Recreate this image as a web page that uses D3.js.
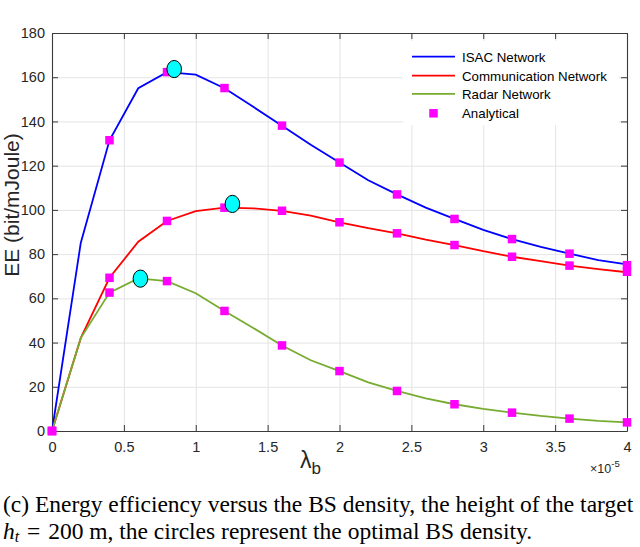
<!DOCTYPE html>
<html>
<head>
<meta charset="utf-8">
<script src="https://cdn.jsdelivr.net/npm/d3@7"></script>
<style>
  body { margin: 0; background: #fff; }
  svg { display: block; }
</style>
</head>
<body>
<div id="chart"></div>
<script>
// BS density (x 1e-5) for the simulated curves
const lambda = [0, 0.2, 0.4, 0.6, 0.8, 1.0, 1.2, 1.4, 1.6, 1.8, 2.0, 2.2, 2.4, 2.6, 2.8, 3.0, 3.2, 3.4, 3.6, 3.8, 4.0];
const isacEE  = [0, 85, 131.5, 155, 162.3, 161.2, 155, 146.6, 138.1, 129.5, 121.4, 113.4, 107, 101, 95.9, 91, 86.8, 83.3, 80.2, 77.3, 75.4];
const commEE  = [0, 42, 69.3, 85.6, 95, 99.4, 101, 100.7, 99.6, 97.4, 94.4, 91.7, 89.4, 86.6, 84.1, 81.3, 78.8, 76.8, 74.8, 73.2, 71.8];
const radarEE = [0, 42, 62.6, 69, 67.8, 62.3, 54.3, 46.6, 38.7, 32, 27.1, 22, 18.1, 14.8, 12.1, 10, 8.3, 6.8, 5.6, 4.6, 3.9];

// analytical points
const anaLambda = [0, 0.4, 0.8, 1.2, 1.6, 2.0, 2.4, 2.8, 3.2, 3.6, 4.0];
const anaIsac   = [0, 131.5, 162.3, 155.1, 138.1, 121.4, 107, 95.9, 86.8, 80.2, 75];
const anaComm   = [0, 69.3, 95, 101, 99.6, 94.4, 89.4, 84.1, 78.8, 74.8, 72];
const anaRadar  = [0, 62.6, 67.8, 54.3, 38.7, 27.1, 18.1, 12.1, 8.3, 5.6, 3.9];

// optimal BS density (circles)
const optLambda = [0.85, 1.255, 0.615];
const optEE     = [163.7, 102.7, 68.9];

const seriesNames = ["ISAC Network", "Communication Network", "Radar Network"];
const xTicks = [0, 0.5, 1, 1.5, 2, 2.5, 3, 3.5, 4];
const yTicks = [0, 20, 40, 60, 80, 100, 120, 140, 160, 180];

const width = 640, height = 547;
const pLeft = 52, pRight = 627, pTop = 33, pBottom = 431;
const colors = ["#0000ff", "#ff0000", "#77ac30"];
const axisColor = "#3a3a3a";

const x = d3.scaleLinear().domain([0, 4]).range([pLeft, pRight]);
const y = d3.scaleLinear().domain([0, 180]).range([pBottom, pTop]);

const svg = d3.select("#chart").append("svg")
    .attr("width", width)
    .attr("height", height)
    .style("font-family", "'Liberation Sans', Arial, sans-serif");

// grid
svg.append("g")
    .attr("transform", `translate(0,${pBottom})`)
    .call(d3.axisBottom(x).tickValues(xTicks).tickSize(-(pBottom - pTop)).tickFormat(""))
    .call(g => g.select(".domain").remove())
    .call(g => g.selectAll("line").attr("stroke", "#e4e4e4"));
svg.append("g")
    .attr("transform", `translate(${pLeft},0)`)
    .call(d3.axisLeft(y).tickValues(yTicks).tickSize(-(pRight - pLeft)).tickFormat(""))
    .call(g => g.select(".domain").remove())
    .call(g => g.selectAll("line").attr("stroke", "#e4e4e4"));

// legend background hides the grid behind it
svg.append("rect")
    .attr("x", 403).attr("y", 41)
    .attr("width", 216).attr("height", 84)
    .attr("fill", "#fff");

// axes with inward ticks on all four sides
const styleAxis = g => {
    g.select(".domain").attr("stroke", axisColor).attr("stroke-width", 1.1);
    g.selectAll(".tick line").attr("stroke", axisColor);
    g.selectAll("text").attr("fill", "#262626").style("font-size", "14.5px");
};
svg.append("g")
    .attr("transform", `translate(0,${pBottom})`)
    .call(d3.axisBottom(x).tickValues(xTicks).tickSizeInner(-6).tickSizeOuter(0).tickPadding(11)
        .tickFormat(d3.format("")))
    .call(styleAxis);
svg.append("g")
    .attr("transform", `translate(0,${pTop})`)
    .call(d3.axisTop(x).tickValues(xTicks).tickSizeInner(-6).tickSizeOuter(0).tickFormat(""))
    .call(styleAxis);
svg.append("g")
    .attr("transform", `translate(${pLeft},0)`)
    .call(d3.axisLeft(y).tickValues(yTicks).tickSizeInner(-6).tickSizeOuter(0).tickPadding(7))
    .call(styleAxis);
svg.append("g")
    .attr("transform", `translate(${pRight},0)`)
    .call(d3.axisRight(y).tickValues(yTicks).tickSizeInner(-6).tickSizeOuter(0).tickFormat(""))
    .call(styleAxis);

// curves
const line = d3.line().x(d => x(d[0])).y(d => y(d[1]));
[isacEE, commEE, radarEE].forEach((vals, i) => {
    svg.append("path")
        .datum(lambda.map((l, j) => [l, vals[j]]))
        .attr("fill", "none")
        .attr("stroke", colors[i])
        .attr("stroke-width", 1.8)
        .attr("d", line);
});

// analytical markers
const ms = 8.5;
[anaIsac, anaComm, anaRadar].forEach(vals => {
    svg.append("g").selectAll("rect")
        .data(anaLambda.map((l, j) => [l, vals[j]]))
        .join("rect")
        .attr("x", d => x(d[0]) - ms / 2)
        .attr("y", d => y(d[1]) - ms / 2)
        .attr("width", ms).attr("height", ms)
        .attr("fill", "#ff00ff");
});

// optimal points
svg.append("g").selectAll("ellipse")
    .data(optLambda.map((l, j) => [l, optEE[j]]))
    .join("ellipse")
    .attr("cx", d => x(d[0]))
    .attr("cy", d => y(d[1]))
    .attr("rx", 7.3).attr("ry", 8.6)
    .attr("fill", "#00ffff")
    .attr("stroke", "#000")
    .attr("stroke-width", 1);

// legend
const legendRows = [56.7, 75.7, 93.8, 113.3];
seriesNames.forEach((name, i) => {
    svg.append("line")
        .attr("x1", 412).attr("x2", 455)
        .attr("y1", legendRows[i]).attr("y2", legendRows[i])
        .attr("stroke", colors[i]).attr("stroke-width", 1.8);
    svg.append("text")
        .attr("x", 462).attr("y", legendRows[i] + 4.8)
        .style("font-size", "13.3px").attr("fill", "#000")
        .text(name);
});
svg.append("rect")
    .attr("x", 433.5 - ms / 2).attr("y", legendRows[3] - ms / 2)
    .attr("width", ms).attr("height", ms)
    .attr("fill", "#ff00ff");
svg.append("text")
    .attr("x", 462).attr("y", legendRows[3] + 4.8)
    .style("font-size", "13.3px").attr("fill", "#000")
    .text("Analytical");

// axis labels
svg.append("text")
    .attr("transform", "translate(19,205) rotate(-90)")
    .attr("text-anchor", "middle")
    .style("font-size", "21px").attr("fill", "#262626")
    .text("EE (bit/mJoule)");

const xl = svg.append("text")
    .attr("x", 300).attr("y", 468)
    .attr("fill", "#262626")
    .style("font-size", "23px");
xl.append("tspan").text("λ");
xl.append("tspan").attr("dy", 6).style("font-size", "17px").text("b");

const ex = svg.append("text")
    .attr("x", 590).attr("y", 473)
    .attr("fill", "#262626")
    .style("font-size", "12.5px");
ex.append("tspan").text("×10");
ex.append("tspan").attr("dy", -6).style("font-size", "9.5px").text("-5");

// caption
const cap = svg.append("g")
    .style("font-family", "'Liberation Serif', 'Times New Roman', serif")
    .style("font-size", "23.5px")
    .attr("fill", "#000");
cap.append("text")
    .attr("x", 3).attr("y", 512)
    .text("(c) Energy efficiency versus the BS density, the height of the target");
const c2 = cap.append("text").attr("x", 3).attr("y", 539);
c2.append("tspan").style("font-style", "italic").text("h");
c2.append("tspan").attr("dy", 3).style("font-style", "italic").style("font-size", "16px").text("t");
c2.append("tspan").attr("dy", -3).text("\u2004=\u2004200 m, the circles represent the optimal BS density.");
</script>
</body>
</html>
